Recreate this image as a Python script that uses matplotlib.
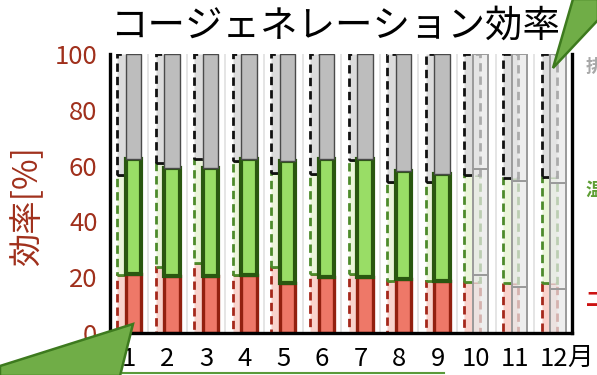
import numpy as np
import matplotlib.pyplot as plt
from matplotlib.patches import Polygon
from matplotlib.lines import Line2D

plt.rcParams['font.family'] = ['Noto Sans CJK JP', 'DejaVu Sans']

# 月別のコージェネ効率 (前年 / 今年)
months = np.arange(1, 13)
month_labels = [str(m) for m in months]
n_actual = 9  # 実績がある月数

prev_power = [20.8, 23.8, 25.1, 20.8, 23.7, 21.1, 21.1, 18.6, 18.6, 18.3, 17.9, 17.9]
prev_total = [56.6, 60.8, 62.3, 61.6, 57.4, 57.0, 62.0, 54.1, 54.1, 56.6, 55.6, 55.9]
cur_power = [21.1, 20.4, 20.4, 20.8, 17.9, 20.1, 20.1, 19.4, 18.6, 20.8, 16.5, 15.8]
cur_total = [62.3, 59.1, 59.1, 62.5, 61.6, 62.4, 62.4, 58.1, 57.0, 58.8, 54.5, 53.8]

prev_heat = np.array(prev_total) - np.array(prev_power)
prev_loss = 100 - np.array(prev_total)
cur_heat = np.array(cur_total) - np.array(cur_power)
cur_loss = 100 - np.array(cur_total)

W, H = 597, 375
RED = '#A0301C'


def px(x, y):
    # ピクセル座標 -> figure座標
    return x / W, 1 - y / H


fig = plt.figure(figsize=(W / 100, H / 100), dpi=100)
ax = fig.add_axes([110 / W, 1 - 333 / H, 462 / W, 279 / H])

# 月の区切り線
for b in np.arange(1.5, 12.5, 1):
    ax.axvline(b, color='#E0E0E0', lw=1.2, zorder=0)

bw = 0.40
off = 0.11
dash = (0, (3, 1.8))

# 前年 (破線の薄い棒)
xp = months - off
ax.bar(xp, prev_power, bw, color='#F9D3CC', edgecolor='#A5281B', lw=2.0, ls=dash, zorder=1)
ax.bar(xp, prev_heat, bw, bottom=prev_power, color='#EBF5DA', edgecolor='#4D8B2B', lw=2.0, ls=dash, zorder=1)
ax.bar(xp, prev_loss, bw, bottom=prev_total, color='#DCDCDC', edgecolor='#111111', lw=2.0, ls=dash, zorder=1)

# 今年 (実績月)
xc = months[:n_actual] + off
a = slice(0, n_actual)
ax.bar(xc, cur_power[a], bw, color='#EE7868', edgecolor='#92200F', lw=2.4, zorder=2)
ax.bar(xc, cur_heat[a], bw, bottom=cur_power[a], color='#99DD66', edgecolor='#2A5710', lw=3.0, zorder=2)
ax.bar(xc, cur_loss[a], bw, bottom=cur_total[a], color='#BDBDBD', edgecolor='#4A4A4A', lw=1.0, zorder=2)

# 今年 (見込み月は半透明)
xf = months[n_actual:] + off
f = slice(n_actual, 12)
for vals, base in [(cur_power[f], 0), (cur_heat[f], cur_power[f]), (cur_loss[f], cur_total[f])]:
    ax.bar(xf, vals, bw, bottom=base, color=(0.91, 0.91, 0.91, 0.72), edgecolor='#9A9A9A', lw=1.4, zorder=2)

ax.set_xlim(0.508, 12.477)
ax.set_ylim(0, 100)
ax.set_yticks([0, 20, 40, 60, 80, 100])
ax.set_xticks(months)
ax.set_xticklabels(month_labels)
ax.tick_params(axis='y', length=0, pad=9, labelsize=18.5, labelcolor=RED)
ax.tick_params(axis='x', length=0, pad=9, labelsize=18.5, labelcolor='black')
for s in ['left', 'bottom', 'right']:
    ax.spines[s].set_linewidth(2.4)
    ax.spines[s].set_color('black')
ax.spines['top'].set_visible(False)

fig.text(*px(335, 26), 'コージェネレーション効率', fontsize=27, ha='center', va='center')
fig.text(*px(28, 206), '効率[%]', fontsize=24, color=RED, rotation=90, ha='center', va='center')
fig.text(*px(567, 358), '月', fontsize=18.5, ha='left', va='center')

# 右端の凡例ラベル
fig.text(*px(586, 67), '排熱', fontsize=13, color='#A8A8A8', fontweight='bold', ha='left', va='center')
fig.text(*px(586, 190), '温水', fontsize=13, color='#5E9E34', fontweight='bold', ha='left', va='center')
fig.text(*px(586, 300), '二', fontsize=14, color='#CC1111', fontweight='bold', ha='left', va='center')

# 実績月の下線
fig.add_artist(Line2D([123 / W, 444 / W], [1 - 372.5 / H] * 2, color='#5A9A3A', lw=1.5))

# 吹き出しの尾
callout = dict(facecolor='#70AD47', edgecolor='#3D7A1E', lw=1.8, zorder=10, transform=fig.transFigure)
fig.add_artist(Polygon([px(133, 324), px(0, 366), px(0, 376), px(120, 376)], closed=True, **callout))
fig.add_artist(Polygon([px(553, 68), px(573, -1), px(598, -1), px(598, 20)], closed=True, **callout))

fig.savefig('out.png', dpi=100)
